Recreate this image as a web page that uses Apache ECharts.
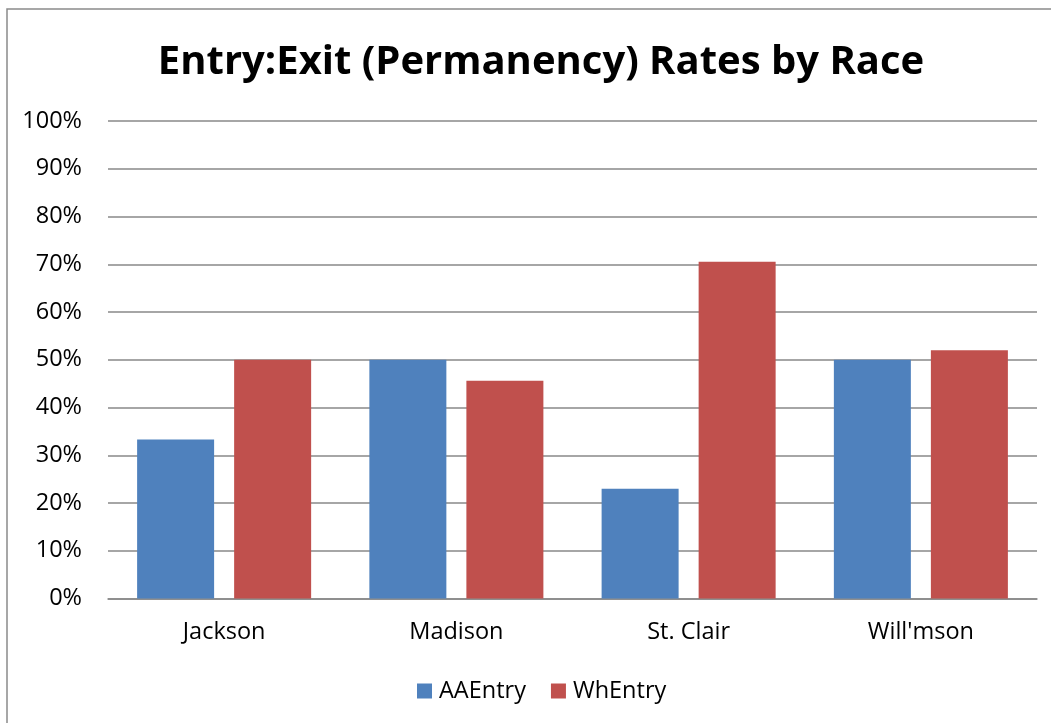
<!DOCTYPE html>
<html>
<head>
<meta charset="utf-8">
<style>
  html, body { margin: 0; padding: 0; background: #ffffff; }
  #chart { width: 1051px; height: 723px; }
</style>
<script src="https://cdn.jsdelivr.net/npm/echarts@6/dist/echarts.min.js"></script>
</head>
<body>
<div id="chart"></div>
<script>
// Entry:Exit (permanency) rates per county, split by race
const categories = ['Jackson', 'Madison', 'St. Clair', "Will'mson"];
const aaEntry = [33.3, 50.0, 23.0, 50.0];
const whEntry = [50.0, 45.6, 70.5, 52.0];
const yTicks = [0, 10, 20, 30, 40, 50, 60, 70, 80, 90, 100];

const FONT = '"Open Sans", "Liberation Sans", sans-serif';

const chart = echarts.init(document.getElementById('chart'), null, { renderer: 'canvas' });

chart.setOption({
  backgroundColor: '#ffffff',
  animation: false,
  graphic: [{
    type: 'rect',
    shape: { x: 7, y: 9, width: 1100, height: 800 },
    style: { fill: 'none', stroke: '#8a8a8a', lineWidth: 1.5 },
    silent: true
  }],
  title: {
    text: 'Entry:Exit (Permanency) Rates by Race',
    left: 536,
    textAlign: 'center',
    top: 38,
    textStyle: { fontFamily: FONT, fontSize: 40, fontWeight: 'bold', color: '#000000' }
  },
  legend: {
    data: ['AAEntry', 'WhEntry'],
    top: 679,
    left: 417,
    padding: 0,
    itemWidth: 15,
    itemHeight: 15,
    itemGap: 25,
    icon: 'rect',
    textStyle: { fontFamily: FONT, fontSize: 23.5, color: '#000000', padding: [0, 0, 0, 2] }
  },
  grid: { left: 108, right: 14, top: 121, bottom: 124.5 },
  xAxis: {
    type: 'category',
    data: categories,
    axisLine: { lineStyle: { color: '#888888', width: 1.5 } },
    axisTick: { show: false },
    axisLabel: { fontFamily: FONT, fontSize: 23.5, color: '#000000', margin: 22 }
  },
  yAxis: {
    type: 'value',
    min: yTicks[0],
    max: yTicks[yTicks.length - 1],
    interval: 10,
    axisLine: { show: false },
    axisTick: { show: false },
    splitLine: { lineStyle: { color: '#888888', width: 1.5 } },
    axisLabel: {
      fontFamily: FONT, fontSize: 23.5, color: '#000000', margin: 26,
      formatter: v => v + '%'
    }
  },
  series: [
    {
      name: 'AAEntry', type: 'bar', data: aaEntry,
      itemStyle: { color: '#4F81BD' },
      barWidth: 77, barGap: '26%'
    },
    {
      name: 'WhEntry', type: 'bar', data: whEntry,
      itemStyle: { color: '#C0504D' },
      barWidth: 77, barGap: '26%'
    }
  ]
});
</script>
</body>
</html>
